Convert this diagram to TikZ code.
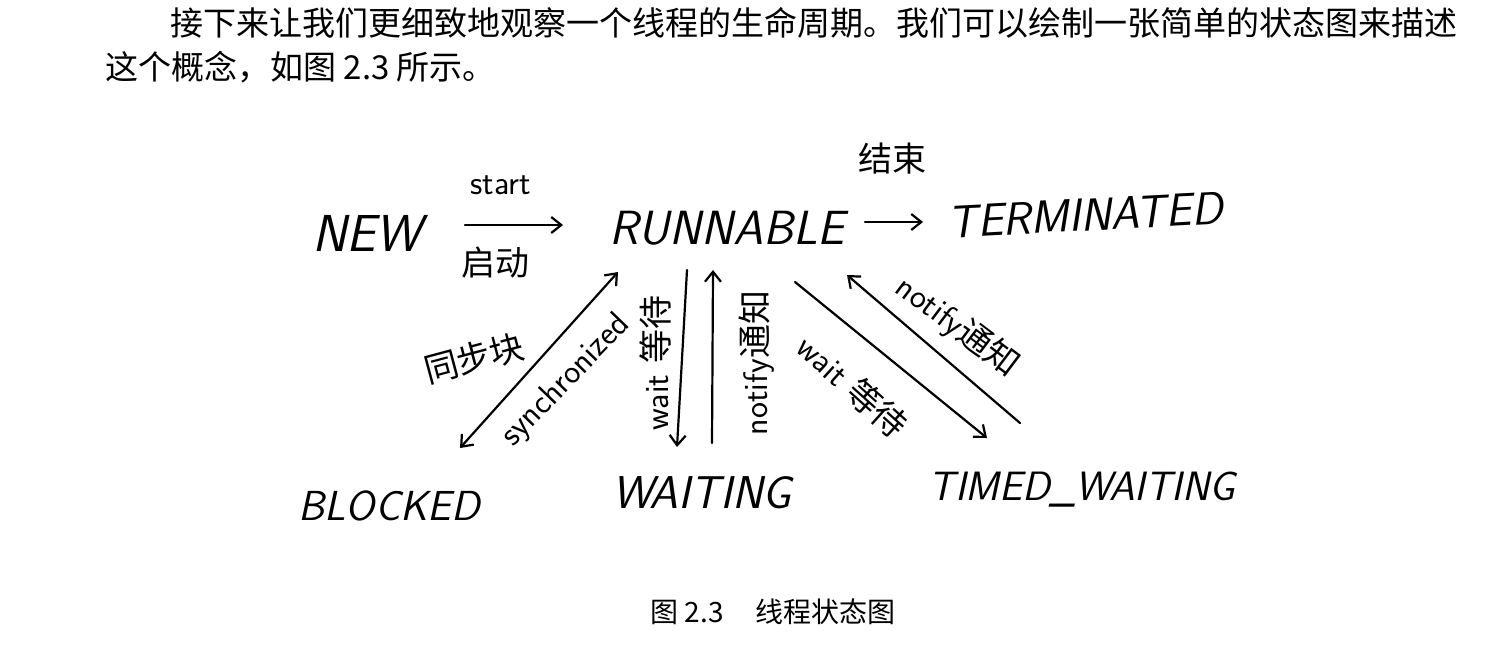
\documentclass[tikz,border=0pt]{standalone}
\usepackage{fontspec}
\newfontfamily\cjk{Noto Sans CJK SC}
\usetikzlibrary{calc}
\usetikzlibrary{arrows.meta}

\newcommand{\zh}[1]{{\cjk #1}}

\begin{document}
\begin{tikzpicture}[x=0.5pt, y=-0.5pt,
  tstate/.style={inner sep=0pt, font=\fontsize{#1}{#1}\selectfont\sffamily\slshape},
  tstate/.default=23pt,
  lbl/.style={inner sep=0pt, font=\fontsize{17pt}{17pt}\selectfont\sffamily},
  hand/.style={line width=1.1pt, line cap=round, >={Straight Barb[length=5pt,width=8pt]}},
  body/.style={inner sep=0pt, anchor=west, font=\fontsize{16.5pt}{16.5pt}\selectfont\cjk}]

  \useasboundingbox (0,0) rectangle (1507,659);

  % paragraph above the figure
  \node[body] (line1) at (170,23) {接下来让我们更细致地观察一个线程的生命周期。我们可以绘制一张简单的状态图来描述};
  \node[body] (line2) at (105,67) {这个概念，如图 2.3 所示。};

  % thread states
  \node[tstate=26pt] (new) at (367,233) {NEW};
  \node[tstate=24pt] (runnable) at (727,228) {RUNNABLE};
  \node[tstate, rotate=3] (terminated) at (1085,215) {TERMINATED};
  \node[tstate=21pt] (blocked) at (389,506) {BLOCKED};
  \node[tstate] (waiting) at (702,493) {WAITING};
  \node[tstate=20.5pt] (timedwaiting) at (1082,490) {TIMED\_WAITING};

  % transitions
  \draw[hand,->] ($(new)+(98,-8)$) -- ($(runnable)+(-164,-3)$);
  \draw[hand,->] ($(runnable)+(138,-6)$) -- ($(terminated)+(-162,7)$);
  \draw[hand,<->] ($(runnable)+(-109,44)$) -- ($(blocked)+(71,-58)$);
  \draw[hand,->] ($(runnable)+(-40,42)$) -- ($(waiting)+(-25,-46)$);
  \draw[hand,->] ($(waiting)+(10,-50)$) -- ($(runnable)+(-14,42)$);
  \draw[hand,->] ($(runnable)+(68,54)$) -- ($(timedwaiting)+(-95,-52)$);
  \draw[hand,->] ($(timedwaiting)+(-62,-67)$) -- ($(runnable)+(120,47)$);

  % transition labels
  \node[lbl] (startlbl) at (501,185) {start};
  \node[lbl] (startzh) at (495,263) {\zh{启动}};
  \node[lbl] (endzh) at (892,159) {\zh{结束}};
  \node[lbl, rotate=15] (synczh) at (474,358) {\zh{同步块}};
  \node[lbl, rotate=46] (synclbl) at (566,381) {synchronized};
  \node[lbl, rotate=90] (waitlbl) at (655,363) {wait \zh{等待}};
  \node[lbl, rotate=90] (notifylbl) at (757,363) {notify\zh{通知}};
  \node[lbl, rotate=-42] (twaitlbl) at (853,386) {wait \zh{等待}};
  \node[lbl, rotate=-37] (tnotifylbl) at (958,326) {notify\zh{通知}};

  % caption
  \node[inner sep=0pt, anchor=west, font=\fontsize{14pt}{14pt}\selectfont\cjk] (caption) at (650,612) {图 2.3\hspace{16pt}线程状态图};
\end{tikzpicture}
\end{document}
